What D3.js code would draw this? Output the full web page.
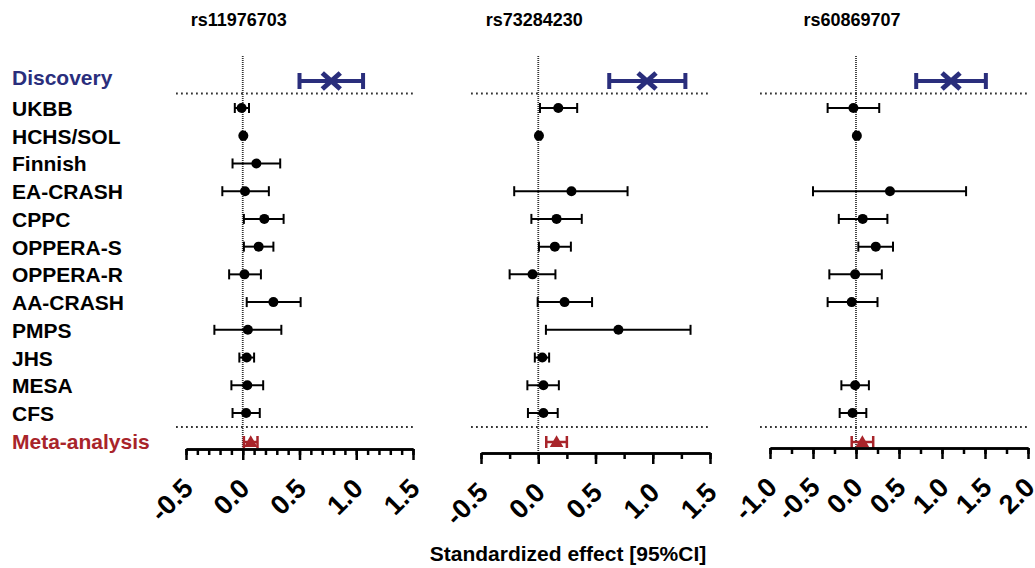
<!DOCTYPE html>
<html>
<head>
<meta charset="utf-8">
<script src="https://cdn.jsdelivr.net/npm/d3@7"></script>
<style>
    body { margin: 0; background: #fff; }
    svg { display: block; font-family: "Liberation Sans", Arial, sans-serif; }
</style>
</head>
<body>
<svg id="chart" width="1035" height="568"></svg>
<script>
// chart data
var snps = ["rs11976703", "rs73284230", "rs60869707"];
var cohorts = ["UKBB", "HCHS/SOL", "Finnish", "EA-CRASH", "CPPC", "OPPERA-S",
               "OPPERA-R", "AA-CRASH", "PMPS", "JHS", "MESA", "CFS"];

// discovery estimate per snp
var discoveryEst = [0.78, 0.95, 1.105];
var discoveryLow = [0.50, 0.62, 0.70];
var discoveryHigh = [1.06, 1.285, 1.51];

// meta-analysis per snp
var metaEst = [0.07, 0.16, 0.074];
var metaLow = [0.01, 0.07, -0.05];
var metaHigh = [0.13, 0.25, 0.20];

// replication cohorts, null = not available
var rs11976703Est  = [-0.01, 0.005, 0.12, 0.02, 0.19, 0.14, 0.015, 0.27, 0.045, 0.035, 0.04, 0.03];
var rs11976703Low  = [-0.07, -0.01, -0.09, -0.18, 0.01, 0.01, -0.12, 0.035, -0.25, -0.03, -0.10, -0.09];
var rs11976703High = [0.055, 0.02, 0.33, 0.23, 0.36, 0.27, 0.16, 0.51, 0.34, 0.10, 0.18, 0.15];

var rs73284230Est  = [0.175, 0.006, null, 0.29, 0.16, 0.145, -0.05, 0.23, 0.70, 0.035, 0.045, 0.045];
var rs73284230Low  = [0.015, -0.008, null, -0.21, -0.06, 0.006, -0.25, -0.005, 0.067, -0.03, -0.095, -0.09];
var rs73284230High = [0.34, 0.02, null, 0.78, 0.38, 0.285, 0.15, 0.47, 1.33, 0.095, 0.18, 0.17];

var rs60869707Est  = [-0.03, 0.01, null, 0.395, 0.078, 0.23, -0.01, -0.05, null, null, -0.01, -0.04];
var rs60869707Low  = [-0.33, -0.01, null, -0.50, -0.20, 0.027, -0.31, -0.33, null, null, -0.17, -0.19];
var rs60869707High = [0.27, 0.03, null, 1.28, 0.365, 0.43, 0.30, 0.25, null, null, 0.15, 0.12];

var axisDomains = [[-0.5, 1.5], [-0.5, 1.5], [-1.0, 2.0]];
var majorTicks = [[-0.5, 0, 0.5, 1.0, 1.5], [-0.5, 0, 0.5, 1.0, 1.5], [-1.0, -0.5, 0, 0.5, 1.0, 1.5, 2.0]];
var tickLabels = [["-0.5", "0.0", "0.5", "1.0", "1.5"],
                  ["-0.5", "0.0", "0.5", "1.0", "1.5"],
                  ["-1.0", "-0.5", "0.0", "0.5", "1.0", "1.5", "2.0"]];
var minorSteps = [0.1, 0.25, 0.25];

var cohortEst = [rs11976703Est, rs73284230Est, rs60869707Est];
var cohortLow = [rs11976703Low, rs73284230Low, rs60869707Low];
var cohortHigh = [rs11976703High, rs73284230High, rs60869707High];

// layout
var panelRanges = [[186, 413], [481, 710], [770, 1028]];
var panelAxisY = [449, 453, 448];
var navy = "#2a2e7c";
var red = "#a8242a";
var discoveryY = 81;
var metaY = 442;

var svg = d3.select("#chart");

var yScale = d3.scalePoint().domain(cohorts).range([108, 413]);

// row labels
var labels = svg.append("g").attr("font-weight", "bold").attr("font-size", "21px");
labels.append("text").attr("x", 12).attr("y", discoveryY + 4).attr("fill", navy).text("Discovery");
labels.selectAll("text.cohort").data(cohorts).enter().append("text")
    .attr("class", "cohort")
    .attr("x", 12)
    .attr("y", function (d) { return yScale(d) + 8; })
    .attr("fill", "#000")
    .text(function (d) { return d; });
labels.append("text").attr("x", 12).attr("y", metaY + 7).attr("fill", red).text("Meta-analysis");

function errorBar(g, x, y, lo, hi, capH, width, color) {
    g.append("line").attr("x1", x(lo)).attr("x2", x(hi)).attr("y1", y).attr("y2", y)
        .attr("stroke", color).attr("stroke-width", width);
    [lo, hi].forEach(function (v) {
        g.append("line").attr("x1", x(v)).attr("x2", x(v))
            .attr("y1", y - capH / 2).attr("y2", y + capH / 2)
            .attr("stroke", color).attr("stroke-width", width);
    });
}

function drawPanel(i) {
    var x = d3.scaleLinear().domain(axisDomains[i]).range(panelRanges[i]);
    var axisY = panelAxisY[i];
    var g = svg.append("g");

    // snp title
    g.append("text")
        .attr("x", x(0) - 4).attr("y", 26)
        .attr("text-anchor", "middle")
        .attr("font-weight", "bold").attr("font-size", "18px")
        .text(snps[i]);

    // zero reference line
    g.append("line")
        .attr("x1", x(0)).attr("x2", x(0)).attr("y1", 56).attr("y2", axisY)
        .attr("stroke", "#333").attr("stroke-width", 1.8).attr("stroke-dasharray", "1,1");

    // dotted separators
    [93.5, 427].forEach(function (yy) {
        g.append("line")
            .attr("x1", panelRanges[i][0] - 10).attr("x2", panelRanges[i][1])
            .attr("y1", yy).attr("y2", yy)
            .attr("stroke", "#333").attr("stroke-width", 2).attr("stroke-dasharray", "1.8,3.2");
    });

    // discovery
    var dg = g.append("g");
    errorBar(dg, x, discoveryY, discoveryLow[i], discoveryHigh[i], 16, 4, navy);
    var cx = x(discoveryEst[i]);
    dg.append("path")
        .attr("d", "M" + (cx - 9) + "," + (discoveryY - 8) + "L" + (cx + 9) + "," + (discoveryY + 8) +
                   "M" + (cx - 9) + "," + (discoveryY + 8) + "L" + (cx + 9) + "," + (discoveryY - 8))
        .attr("stroke", navy).attr("stroke-width", 5).attr("fill", "none");

    // replication cohorts
    var cg = g.append("g");
    cohorts.forEach(function (c, j) {
        if (cohortEst[i][j] === null) {
            return;
        }
        errorBar(cg, x, yScale(c), cohortLow[i][j], cohortHigh[i][j], 10, 2, "#000");
        cg.append("circle")
            .attr("cx", x(cohortEst[i][j])).attr("cy", yScale(c)).attr("r", 5)
            .attr("fill", "#000");
    });

    // meta-analysis
    var mg = g.append("g");
    errorBar(mg, x, metaY, metaLow[i], metaHigh[i], 12, 2.5, red);
    mg.append("path")
        .attr("d", d3.symbol().type(d3.symbolTriangle).size(80)())
        .attr("transform", "translate(" + x(metaEst[i]) + "," + (metaY + 1) + ")")
        .attr("fill", red);

    // axis
    var minor = d3.range(axisDomains[i][0], axisDomains[i][1] + 1e-6, minorSteps[i]);
    var minorAxis = d3.axisBottom(x).tickValues(minor).tickSize(6).tickSizeOuter(0).tickFormat("");
    var ga = g.append("g").attr("transform", "translate(0," + axisY + ")");
    ga.call(minorAxis);
    var majorAxis = d3.axisBottom(x).tickValues(majorTicks[i]).tickSize(11).tickSizeOuter(0)
        .tickFormat(function (d, k) { return tickLabels[i][k]; });
    var gm = g.append("g").attr("transform", "translate(0," + axisY + ")");
    gm.call(majorAxis);
    [ga, gm].forEach(function (a) {
        a.select(".domain").attr("stroke", "#000").attr("stroke-width", 2.5);
        a.selectAll(".tick line").attr("stroke", "#000").attr("stroke-width", 2.5);
    });
    gm.selectAll(".tick text")
        .attr("x", null).attr("y", null).attr("dy", null)
        .attr("transform", "translate(8,41) rotate(-45)")
        .attr("text-anchor", "end")
        .attr("font-family", "'Liberation Sans', Arial, sans-serif")
        .attr("font-weight", "bold").attr("font-size", "27px")
        .attr("fill", "#000");
}

for (var p = 0; p < snps.length; p++) {
    drawPanel(p);
}

svg.append("text")
    .attr("x", 568).attr("y", 561)
    .attr("text-anchor", "middle")
    .attr("font-weight", "bold").attr("font-size", "21px")
    .text("Standardized effect [95%CI]");
</script>
</body>
</html>
